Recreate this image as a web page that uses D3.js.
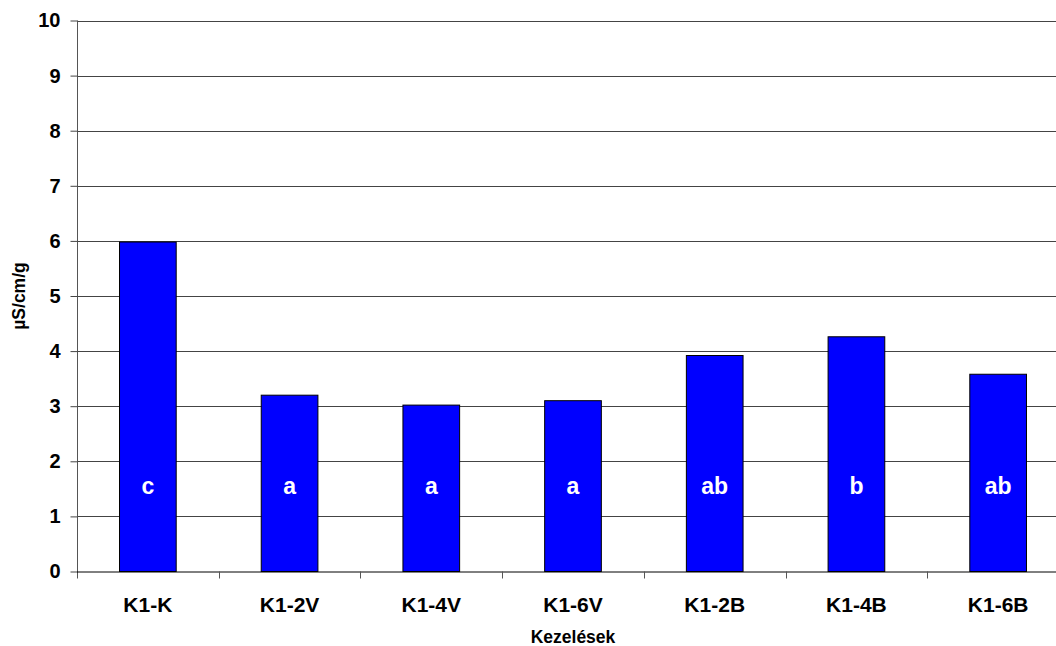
<!DOCTYPE html>
<html>
<head>
<meta charset="utf-8">
<script src="https://cdn.jsdelivr.net/npm/d3@7"></script>
<style>
  html, body { margin: 0; padding: 0; background: #fff; overflow: hidden; }
  svg { display: block; font-family: "Liberation Sans", Arial, sans-serif; }
</style>
</head>
<body>
<svg id="chart" width="1056" height="646"></svg>
<script>
const categories = ["K1-K", "K1-2V", "K1-4V", "K1-6V", "K1-2B", "K1-4B", "K1-6B"];
const values = [5.98, 3.20, 3.02, 3.10, 3.92, 4.26, 3.58];
const letters = ["c", "a", "a", "a", "ab", "b", "ab"];
const yTicks = [0, 1, 2, 3, 4, 5, 6, 7, 8, 9, 10];
const yTitle = "µS/cm/g";
const xTitle = "Kezelések";

(function () {
const svg = d3.select("#chart");
const mLeft = 77, mTop = 20.5, mBottom = 571.5, mRight = 1069;

const x = d3.scaleBand().domain(categories).range([mLeft, mRight]).paddingInner(0.6).paddingOuter(0.3);
const xc = d3.scaleBand().domain(categories).range([mLeft, mRight]);
const y = d3.scaleLinear().domain([0, 10]).range([mBottom, mTop]);

// gridlines
svg.append("g").selectAll("line").data(yTicks.filter(d => d > 0)).join("line")
  .attr("x1", mLeft).attr("x2", 1056)
  .attr("y1", d => Math.round(y(d)) + 0.5).attr("y2", d => Math.round(y(d)) + 0.5)
  .attr("stroke", "#444").attr("stroke-width", 1);

// bars
svg.append("g").selectAll("rect").data(values).join("rect")
  .attr("x", (d, i) => x(categories[i]))
  .attr("width", x.bandwidth())
  .attr("y", d => y(d))
  .attr("height", d => mBottom - y(d))
  .attr("fill", "#0000ff").attr("stroke", "#000").attr("stroke-width", 1);

// letters
svg.append("g").selectAll("text").data(letters).join("text")
  .attr("x", (d, i) => xc(categories[i]) + xc.bandwidth() / 2)
  .attr("y", y(1.55)).attr("dy", "0.35em")
  .attr("text-anchor", "middle").attr("fill", "#fff")
  .attr("font-weight", "bold").attr("font-size", 23)
  .text(d => d);

// y axis
const yAxis = d3.axisLeft(y).tickValues(yTicks).tickSize(7).tickPadding(10).tickFormat(d3.format("d"));
const gy = svg.append("g").attr("transform", `translate(${mLeft + 0.5},0)`).call(yAxis);
gy.select(".domain").attr("stroke", "#555").attr("d", `M0,${mTop}V${mBottom + 7}`);
gy.selectAll(".tick line").attr("stroke", "#444");
gy.selectAll(".tick text").attr("font-size", 20).attr("font-weight", "bold").attr("fill", "#000")
  .attr("font-family", "Liberation Sans, Arial, sans-serif");

// x axis baseline
svg.append("line").attr("x1", mLeft).attr("x2", 1056)
  .attr("y1", mBottom + 0.5).attr("y2", mBottom + 0.5).attr("stroke", "#000");

// category boundary ticks
svg.append("g").selectAll("line").data(categories.slice(1)).join("line")
  .attr("x1", d => Math.round(xc(d)) + 0.5).attr("x2", d => Math.round(xc(d)) + 0.5)
  .attr("y1", mBottom).attr("y2", mBottom + 7).attr("stroke", "#555");

// category labels
svg.append("g").selectAll("text").data(categories).join("text")
  .attr("x", d => xc(d) + xc.bandwidth() / 2).attr("y", 612)
  .attr("text-anchor", "middle").attr("font-weight", "bold").attr("font-size", 21)
  .text(d => d);

// axis titles
svg.append("text").attr("x", (mLeft + mRight) / 2).attr("y", 643)
  .attr("text-anchor", "middle").attr("font-weight", "bold").attr("font-size", 17.5)
  .text(xTitle);
svg.append("text").attr("transform", `translate(25,${(mTop + mBottom) / 2}) rotate(-90)`)
  .attr("text-anchor", "middle").attr("font-weight", "bold").attr("font-size", 17.5)
  .text(yTitle);
})();
</script>
</body>
</html>
